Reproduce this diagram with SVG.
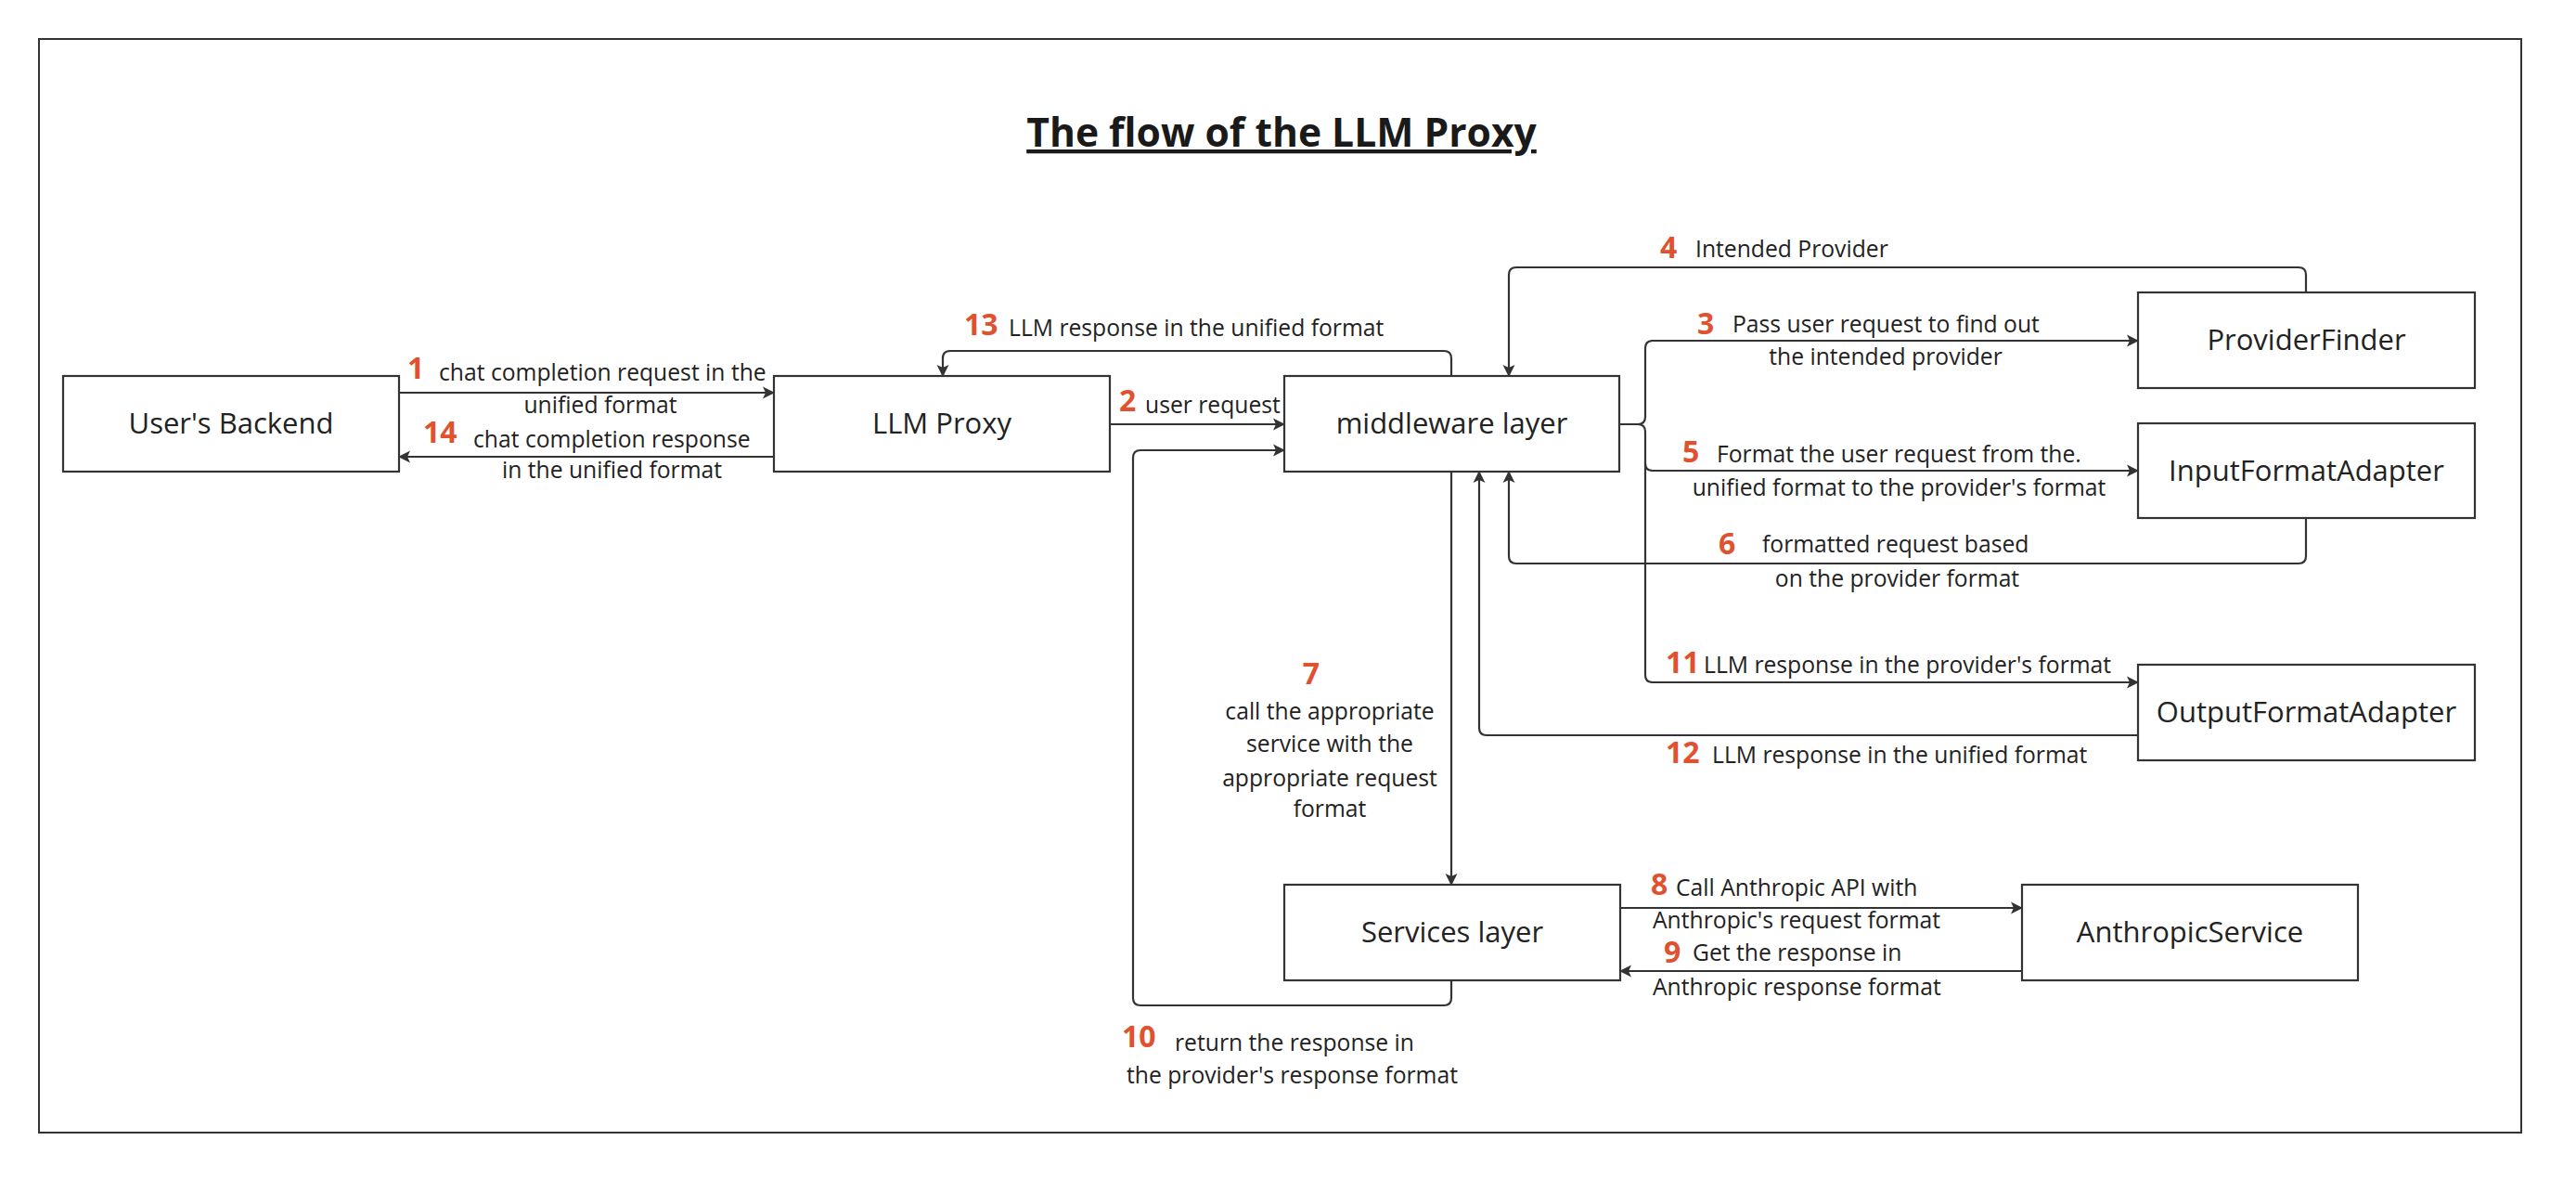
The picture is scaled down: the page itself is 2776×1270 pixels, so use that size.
<svg xmlns="http://www.w3.org/2000/svg" width="2776" height="1270" viewBox="0 0 2776 1270">
<defs>
<marker id="arr" markerUnits="userSpaceOnUse" markerWidth="16" markerHeight="16" refX="13" refY="8" orient="auto">
<path d="M1,1.5 L14,8 L1,14.5 L4,8 Z" fill="#333333"/>
</marker>
<style>
.node rect{fill:#ffffff;stroke:#333333;stroke-width:2.2}
.node text{font-family:"Open Sans","Liberation Sans",sans-serif;font-size:31px;fill:#222222;text-anchor:middle}
.conn path{fill:none;stroke:#333333;stroke-width:2.2}
.arrow{marker-end:url(#arr)}
.lbl{font-family:"Open Sans","Liberation Sans",sans-serif;font-size:24.7px;fill:#222222}
.num{font-family:"Open Sans","Liberation Sans",sans-serif;font-size:32px;font-weight:bold;fill:#E0522F}
.mid{text-anchor:middle}
.title{font-family:"Open Sans","Liberation Sans",sans-serif;font-size:42.6px;font-weight:bold;fill:#1a1a1a;text-anchor:middle;text-decoration:underline}
</style>
</defs>
<rect x="0" y="0" width="2776" height="1270" fill="#ffffff"/>
<rect x="42" y="42" width="2675" height="1178" fill="none" stroke="#333333" stroke-width="2"/>
<text class="title" x="1381" y="158">The flow of the LLM Proxy</text>

<g id="connectors" class="conn">
<path id="c1" class="arrow" d="M430,423 H834"/>
<path id="c14" class="arrow" d="M834,492 H430"/>
<path id="c2" class="arrow" d="M1196,457 H1384"/>
<path id="c13" class="arrow" d="M1564,405 V386 Q1564,378 1556,378 H1024 Q1016,378 1016,386 V405"/>
<path id="c4" class="arrow" d="M2485,315 V296 Q2485,288 2477,288 H1634 Q1626,288 1626,296 V405"/>
<path id="c3" class="arrow" d="M1745,457 H1765 Q1773,457 1773,449 V375 Q1773,367 1781,367 H2304"/>
<path id="c5" class="arrow" d="M1745,457 H1765 Q1773,457 1773,465 V499 Q1773,507 1781,507 H2304"/>
<path id="c11" class="arrow" d="M1773,499 V727 Q1773,735 1781,735 H2304"/>
<path id="c6" class="arrow" d="M2485,558 V599 Q2485,607 2477,607 H1634 Q1626,607 1626,599 V508"/>
<path id="c12" class="arrow" d="M2304,792 H1602 Q1594,792 1594,784 V508"/>
<path id="c7" class="arrow" d="M1564,508 V953"/>
<path id="c8" class="arrow" d="M1746,978 H2179"/>
<path id="c9" class="arrow" d="M2179,1046 H1746"/>
<path id="c10" class="arrow" d="M1564,1056 V1075 Q1564,1083 1556,1083 H1229 Q1221,1083 1221,1075 V493 Q1221,485 1229,485 H1384"/>
</g>

<g id="node-users-backend" class="node"><rect x="68" y="405" width="362" height="103"/><text x="249" y="467">User's Backend</text></g>
<g id="node-llm-proxy" class="node"><rect x="834" y="405" width="362" height="103"/><text x="1015" y="467">LLM Proxy</text></g>
<g id="node-middleware" class="node"><rect x="1384" y="405" width="361" height="103"/><text x="1564.5" y="467">middleware layer</text></g>
<g id="node-provider-finder" class="node"><rect x="2304" y="315" width="363" height="103"/><text x="2485.5" y="377">ProviderFinder</text></g>
<g id="node-input-adapter" class="node"><rect x="2304" y="456" width="363" height="102"/><text x="2485.5" y="518">InputFormatAdapter</text></g>
<g id="node-output-adapter" class="node"><rect x="2304" y="716" width="363" height="103"/><text x="2485.5" y="778">OutputFormatAdapter</text></g>
<g id="node-services" class="node"><rect x="1384" y="953" width="362" height="103"/><text x="1565" y="1015">Services layer</text></g>
<g id="node-anthropic" class="node"><rect x="2179" y="953" width="362" height="103"/><text x="2360" y="1015">AnthropicService</text></g>

<g id="labels">
<text class="num" x="439" y="408">1</text>
<text class="lbl" x="473" y="410">chat completion request in the</text>
<text class="lbl mid" x="647" y="445">unified format</text>

<text class="num" x="456" y="477">14</text>
<text class="lbl" x="510" y="482">chat completion response</text>
<text class="lbl mid" x="659.5" y="515">in the unified format</text>

<text class="num" x="1039" y="361">13</text>
<text class="lbl" x="1087" y="362">LLM response in the unified format</text>

<text class="num" x="1206" y="443">2</text>
<text class="lbl" x="1234" y="445">user request</text>

<text class="num" x="1789" y="278">4</text>
<text class="lbl" x="1827" y="277">Intended Provider</text>

<text class="num" x="1829" y="360">3</text>
<text class="lbl" x="1867" y="358">Pass user request to find out</text>
<text class="lbl mid" x="2032" y="393">the intended provider</text>

<text class="num" x="1813" y="498">5</text>
<text class="lbl" x="1850" y="498">Format the user request from the.</text>
<text class="lbl mid" x="2046.5" y="534">unified format to the provider's format</text>

<text class="num" x="1852" y="597">6</text>
<text class="lbl" x="1899" y="595">formatted request based</text>
<text class="lbl mid" x="2044.5" y="632">on the provider format</text>

<text class="num" x="1795" y="725">11</text>
<text class="lbl" x="1836" y="725">LLM response in the provider's format</text>

<text class="num" x="1795" y="822">12</text>
<text class="lbl" x="1845" y="822">LLM response in the unified format</text>

<text class="num mid" x="1413" y="737">7</text>
<text class="lbl mid" x="1433" y="775">call the appropriate</text>
<text class="lbl mid" x="1433" y="810">service with the</text>
<text class="lbl mid" x="1433" y="847">appropriate request</text>
<text class="lbl mid" x="1433" y="880">format</text>

<text class="num" x="1779" y="964">8</text>
<text class="lbl" x="1806" y="965">Call Anthropic API with</text>
<text class="lbl" x="1781" y="1000">Anthropic's request format</text>

<text class="num" x="1793" y="1037">9</text>
<text class="lbl" x="1824" y="1035">Get the response in</text>
<text class="lbl" x="1781" y="1072">Anthropic response format</text>

<text class="num" x="1209" y="1128">10</text>
<text class="lbl" x="1266" y="1132">return the response in</text>
<text class="lbl" x="1214" y="1167">the provider's response format</text>
</g>
</svg>
